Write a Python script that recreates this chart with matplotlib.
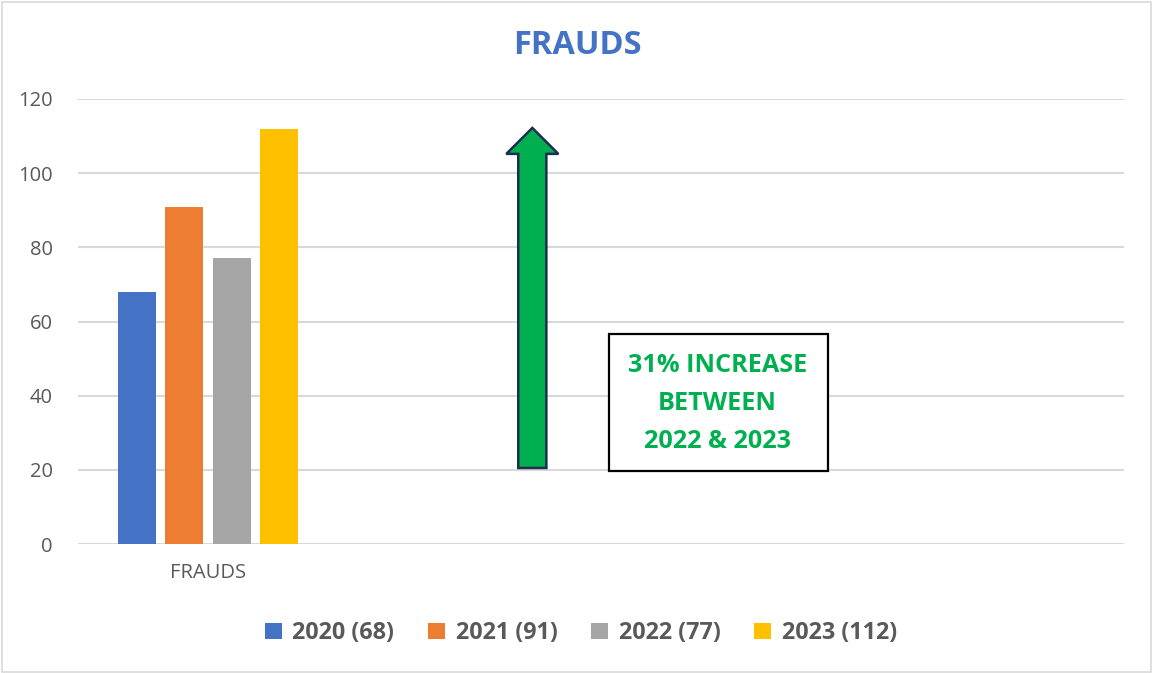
import matplotlib
matplotlib.use("Agg")
import matplotlib.pyplot as plt
from matplotlib.patches import Patch, Polygon, Rectangle

categories = ["FRAUDS"]
years = ["2020", "2021", "2022", "2023"]
values = [68, 91, 77, 112]
colors = ["#4472C4", "#ED7D31", "#A5A5A5", "#FFC000"]
legend_labels = [f"{y} ({v})" for y, v in zip(years, values)]
yticks = [0, 20, 40, 60, 80, 100, 120]

plt.rcParams['font.family'] = ['Open Sans', 'DejaVu Sans']

fig = plt.figure(figsize=(11.52, 6.73), dpi=100)
W, H = 1152, 673
ax = fig.add_axes([78 / W, (H - 544) / H, (1124 - 78) / W, (544 - 99) / H])

offsets = [-0.273, -0.091, 0.091, 0.273]
bw = 0.146
for i, (v, c, off) in enumerate(zip(values, colors, offsets)):
    ax.bar(0 + off, v, width=bw, color=c, zorder=3)

ax.set_xlim(-0.5, 3.52)
ax.set_ylim(0, 120)
ax.set_yticks(yticks)
ax.set_xticks([0])
ax.set_xticklabels(categories)
ax.tick_params(axis='both', length=0, labelsize=14.5, labelcolor="#595959")
ax.tick_params(axis='y', pad=18)
ax.tick_params(axis='x', pad=14)
ax.grid(axis='y', color="#D9D9D9", linewidth=1.5, zorder=0)
for s in ax.spines.values():
    s.set_visible(False)

# arrow
arrow = Polygon([(1.192, 20.5), (1.300, 20.5), (1.300, 105.2), (1.346, 105.2),
                 (1.246, 112.2), (1.146, 105.2), (1.192, 105.2)],
                closed=True, facecolor="#00B050", edgecolor="#1F2D4E",
                linewidth=1.8, zorder=4, joinstyle='miter')
ax.add_patch(arrow)

# text box
ax.add_patch(Rectangle((1.542, 19.7), 2.381 - 1.542, 56.6 - 19.7, facecolor="white",
                       edgecolor="black", linewidth=1.6, zorder=4))
ax.text(1.958, 38.0, "31% INCREASE\nBETWEEN\n2022 & 2023", ha='center', va='center',
        color="#00B050", fontsize=18.2, fontweight='bold', linespacing=1.68, zorder=5)

fig.text(577 / W, 1 - 45 / H, "FRAUDS", ha='center', va='center', color="#4472C4",
         fontsize=23.5, fontweight='bold')

handles = [Patch(facecolor=c, edgecolor='none') for c in colors]
leg = fig.legend(handles, legend_labels, loc='center', bbox_to_anchor=(581 / W, 1 - 633 / H),
                 ncol=4, frameon=False, handlelength=0.72, handleheight=0.72,
                 handletextpad=0.45, columnspacing=1.45,
                 prop={'weight': 'bold', 'size': 16.8})
for t in leg.get_texts():
    t.set_color("#595959")

fig.add_artist(Rectangle((1.5 / W, 1.5 / H), 1 - 3 / W, 1 - 3 / H, transform=fig.transFigure,
                         facecolor='none', edgecolor="#D9D9D9", linewidth=1.2))

fig.savefig("out.png", dpi=100)
